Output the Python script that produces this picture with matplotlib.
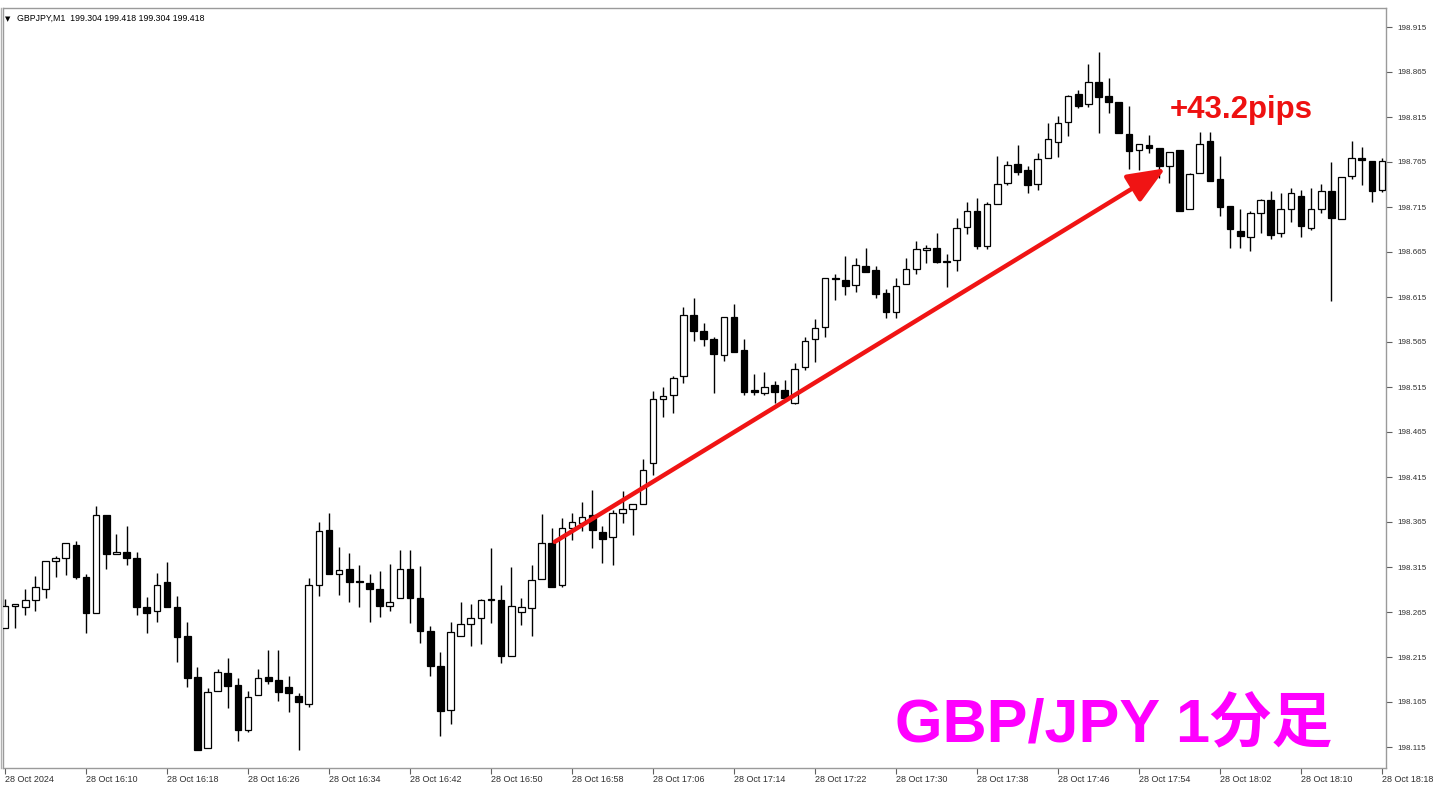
import matplotlib
matplotlib.use("Agg")
import matplotlib.pyplot as plt
import numpy as np

# ---------------- data (GBP/JPY M1, 28 Oct 2024, from 16:02) ----------------
opens = [198.247, 198.272, 198.271, 198.278, 198.291, 198.322, 198.325, 198.339, 198.304, 198.264,
         198.373, 198.329, 198.332, 198.325, 198.271, 198.266, 198.298, 198.271, 198.238, 198.193,
         198.114, 198.177, 198.197, 198.184, 198.134, 198.173, 198.193, 198.189, 198.182, 198.172,
         198.163, 198.295, 198.356, 198.307, 198.313, 198.299, 198.297, 198.291, 198.272, 198.281,
         198.313, 198.281, 198.244, 198.205, 198.156, 198.238, 198.252, 198.258, 198.279, 198.278,
         198.216, 198.265, 198.269, 198.302, 198.342, 198.295, 198.358, 198.364, 198.373, 198.354,
         198.348, 198.375, 198.379, 198.385, 198.431, 198.502, 198.506, 198.527, 198.595, 198.577,
         198.568, 198.551, 198.593, 198.556, 198.512, 198.508, 198.517, 198.512, 198.497, 198.537,
         198.568, 198.582, 198.636, 198.634, 198.628, 198.649, 198.645, 198.619, 198.598, 198.629,
         198.646, 198.667, 198.669, 198.654, 198.656, 198.693, 198.711, 198.672, 198.718, 198.742,
         198.763, 198.756, 198.741, 198.769, 198.787, 198.809, 198.841, 198.829, 198.854, 198.838,
         198.832, 198.796, 198.778, 198.784, 198.781, 198.761, 198.778, 198.713, 198.753, 198.788,
         198.746, 198.716, 198.688, 198.682, 198.708, 198.723, 198.686, 198.713, 198.727, 198.692,
         198.713, 198.733, 198.702, 198.749, 198.769, 198.766, 198.734]
highs = [198.279, 198.274, 198.291, 198.305, 198.322, 198.327, 198.342, 198.344, 198.307, 198.383,
         198.373, 198.352, 198.361, 198.332, 198.282, 198.308, 198.321, 198.283, 198.254, 198.204,
         198.181, 198.202, 198.214, 198.192, 198.177, 198.202, 198.223, 198.223, 198.194, 198.175,
         198.303, 198.365, 198.375, 198.337, 198.331, 198.317, 198.307, 198.311, 198.318, 198.334,
         198.334, 198.316, 198.249, 198.221, 198.254, 198.276, 198.274, 198.279, 198.336, 198.295,
         198.315, 198.281, 198.317, 198.374, 198.358, 198.369, 198.375, 198.387, 198.401, 198.361,
         198.378, 198.399, 198.385, 198.435, 198.511, 198.515, 198.527, 198.604, 198.614, 198.586,
         198.571, 198.593, 198.607, 198.568, 198.529, 198.532, 198.522, 198.523, 198.542, 198.571,
         198.591, 198.636, 198.641, 198.661, 198.658, 198.669, 198.649, 198.624, 198.636, 198.658,
         198.677, 198.673, 198.686, 198.663, 198.703, 198.721, 198.725, 198.721, 198.772, 198.766,
         198.784, 198.761, 198.775, 198.808, 198.816, 198.839, 198.845, 198.874, 198.887, 198.858,
         198.832, 198.827, 198.785, 198.795, 198.781, 198.776, 198.778, 198.753, 198.798, 198.798,
         198.772, 198.716, 198.713, 198.711, 198.724, 198.733, 198.731, 198.736, 198.734, 198.736,
         198.741, 198.765, 198.748, 198.788, 198.782, 198.766, 198.769]
lows = [198.247, 198.247, 198.262, 198.266, 198.281, 198.304, 198.306, 198.302, 198.242, 198.264,
        198.313, 198.329, 198.317, 198.262, 198.242, 198.254, 198.271, 198.209, 198.182, 198.112,
        198.114, 198.177, 198.158, 198.122, 198.132, 198.173, 198.185, 198.166, 198.154, 198.112,
        198.159, 198.283, 198.307, 198.284, 198.276, 198.271, 198.254, 198.259, 198.266, 198.281,
        198.253, 198.231, 198.194, 198.127, 198.141, 198.238, 198.227, 198.229, 198.253, 198.208,
        198.216, 198.251, 198.238, 198.302, 198.293, 198.293, 198.345, 198.355, 198.336, 198.319,
        198.317, 198.364, 198.351, 198.385, 198.417, 198.482, 198.486, 198.519, 198.566, 198.561,
        198.508, 198.544, 198.554, 198.506, 198.506, 198.506, 198.497, 198.501, 198.496, 198.534,
        198.543, 198.571, 198.612, 198.617, 198.621, 198.643, 198.614, 198.592, 198.592, 198.629,
        198.641, 198.653, 198.653, 198.626, 198.644, 198.685, 198.668, 198.668, 198.718, 198.739,
        198.751, 198.731, 198.734, 198.769, 198.771, 198.794, 198.825, 198.826, 198.797, 198.819,
        198.797, 198.757, 198.756, 198.775, 198.747, 198.742, 198.711, 198.713, 198.753, 198.744,
        198.705, 198.669, 198.669, 198.666, 198.686, 198.679, 198.682, 198.698, 198.682, 198.689,
        198.708, 198.611, 198.702, 198.746, 198.739, 198.721, 198.732]
closes = [198.272, 198.274, 198.278, 198.293, 198.322, 198.325, 198.342, 198.304, 198.264, 198.373,
          198.329, 198.332, 198.325, 198.271, 198.264, 198.295, 198.271, 198.237, 198.192, 198.112,
          198.176, 198.198, 198.183, 198.134, 198.171, 198.192, 198.188, 198.176, 198.175, 198.165,
          198.295, 198.355, 198.307, 198.312, 198.298, 198.298, 198.291, 198.272, 198.276, 198.313,
          198.281, 198.244, 198.205, 198.155, 198.243, 198.252, 198.258, 198.278, 198.278, 198.216,
          198.272, 198.271, 198.301, 198.342, 198.293, 198.358, 198.365, 198.371, 198.356, 198.346,
          198.375, 198.379, 198.385, 198.423, 198.502, 198.505, 198.525, 198.595, 198.577, 198.568,
          198.552, 198.593, 198.554, 198.509, 198.509, 198.515, 198.509, 198.503, 198.535, 198.566,
          198.581, 198.636, 198.635, 198.627, 198.651, 198.643, 198.618, 198.598, 198.627, 198.646,
          198.668, 198.669, 198.654, 198.655, 198.692, 198.711, 198.672, 198.718, 198.741, 198.762,
          198.754, 198.739, 198.768, 198.791, 198.808, 198.838, 198.827, 198.854, 198.837, 198.832,
          198.797, 198.777, 198.785, 198.781, 198.761, 198.776, 198.711, 198.752, 198.785, 198.744,
          198.715, 198.691, 198.683, 198.708, 198.723, 198.684, 198.713, 198.731, 198.694, 198.713,
          198.733, 198.703, 198.748, 198.769, 198.767, 198.733, 198.766]

price_ticks = [198.915, 198.865, 198.815, 198.765, 198.715, 198.665, 198.615, 198.565,
               198.515, 198.465, 198.415, 198.365, 198.315, 198.265, 198.215, 198.165, 198.115]
time_labels = ["28 Oct 2024", "28 Oct 16:10", "28 Oct 16:18", "28 Oct 16:26", "28 Oct 16:34",
               "28 Oct 16:42", "28 Oct 16:50", "28 Oct 16:58", "28 Oct 17:06", "28 Oct 17:14",
               "28 Oct 17:22", "28 Oct 17:30", "28 Oct 17:38", "28 Oct 17:46", "28 Oct 17:54",
               "28 Oct 18:02", "28 Oct 18:10", "28 Oct 18:18"]
label_step = 8  # one label every 8 candles (minutes)

arrow_start = (54.3, 198.343)
arrow_end = (114.6, 198.758)

# ---------------- figure ----------------
W, H = 1441, 797
fig = plt.figure(figsize=(W / 100, H / 100), dpi=100)
L, R, T, B = 3, 1386, 8, 768
ax = fig.add_axes([L / W, 1 - B / H, (R - L) / W, (B - T) / H])

n = len(opens)
x = np.arange(n)
o = np.array(opens); h = np.array(highs); lo = np.array(lows); c = np.array(closes)

ax.vlines(x, lo, h, color="black", lw=1.0, zorder=2)
bull = c >= o
bottom = np.minimum(o, c)
height = np.maximum(np.abs(c - o), 0.0006)
ax.bar(x[bull], height[bull], bottom=bottom[bull], width=0.66, facecolor="white",
       edgecolor="black", linewidth=0.9, zorder=3)
ax.bar(x[~bull], height[~bull], bottom=bottom[~bull], width=0.66, facecolor="black",
       edgecolor="black", linewidth=0.9, zorder=3)

px_per_candle = 10.125
ax.set_xlim((L - 5) / px_per_candle, (R - 5) / px_per_candle)
ax.set_ylim(198.945 - B / 900, 198.945 - T / 900)

# axes styling (MetaTrader look)
for s in ax.spines.values():
    s.set_color("#9a9a9a")
    s.set_linewidth(1.0)
ax.yaxis.tick_right()
ax.set_yticks(price_ticks)
ax.set_yticklabels([f"{v:.3f}" for v in price_ticks])
ax.tick_params(axis="y", direction="out", length=4, width=0.8, color="#606060",
               labelsize=5.8, labelcolor="#303030", pad=4)
xt = np.arange(0, label_step * len(time_labels), label_step)
ax.set_xticks(xt)
ax.set_xticklabels(time_labels)
ax.tick_params(axis="x", direction="out", length=4, width=0.8, color="#606060",
               labelsize=6.5, labelcolor="#303030", pad=1)
for lab in ax.get_xticklabels():
    lab.set_horizontalalignment("left")
    lab.set_fontfamily("Liberation Sans")
for lab in ax.get_yticklabels():
    lab.set_fontfamily("Liberation Sans")

# arrow annotation
ax.annotate("", xy=arrow_end, xytext=arrow_start,
            arrowprops=dict(arrowstyle="-|>,head_length=2.3,head_width=0.95",
                            mutation_scale=10, color="#f01414", lw=3.2,
                            shrinkA=0, shrinkB=0),
            zorder=5)

fig.text(1170 / W, 1 - 118 / H, "+43.2pips", color="#ee1111", fontsize=22.5,
         fontweight="bold", family=["Liberation Sans", "DejaVu Sans"], va="baseline", ha="left")
fig.text(895 / W, 1 - 742 / H, "GBP/JPY 1分足", color="#ff00ff", fontsize=44,
         fontweight="bold", family=["Liberation Sans", "Noto Sans CJK JP"],
         va="baseline", ha="left")

# header
fig.text(5 / W, 1 - 21 / H, "▼", fontsize=5, color="black", family=["DejaVu Sans"],
         va="baseline", ha="left")
fig.text(17 / W, 1 - 21 / H, "GBPJPY,M1  199.304 199.418 199.304 199.418", fontsize=6.3,
         color="black", family=["Liberation Sans"], va="baseline", ha="left")

# window border line on the left
fig.add_artist(plt.Line2D([1 / W, 1 / W], [1 - 8 / H, 1 - 768 / H], color="#b0b0b0", lw=1))

fig.savefig("out.png", dpi=100, facecolor="white")
